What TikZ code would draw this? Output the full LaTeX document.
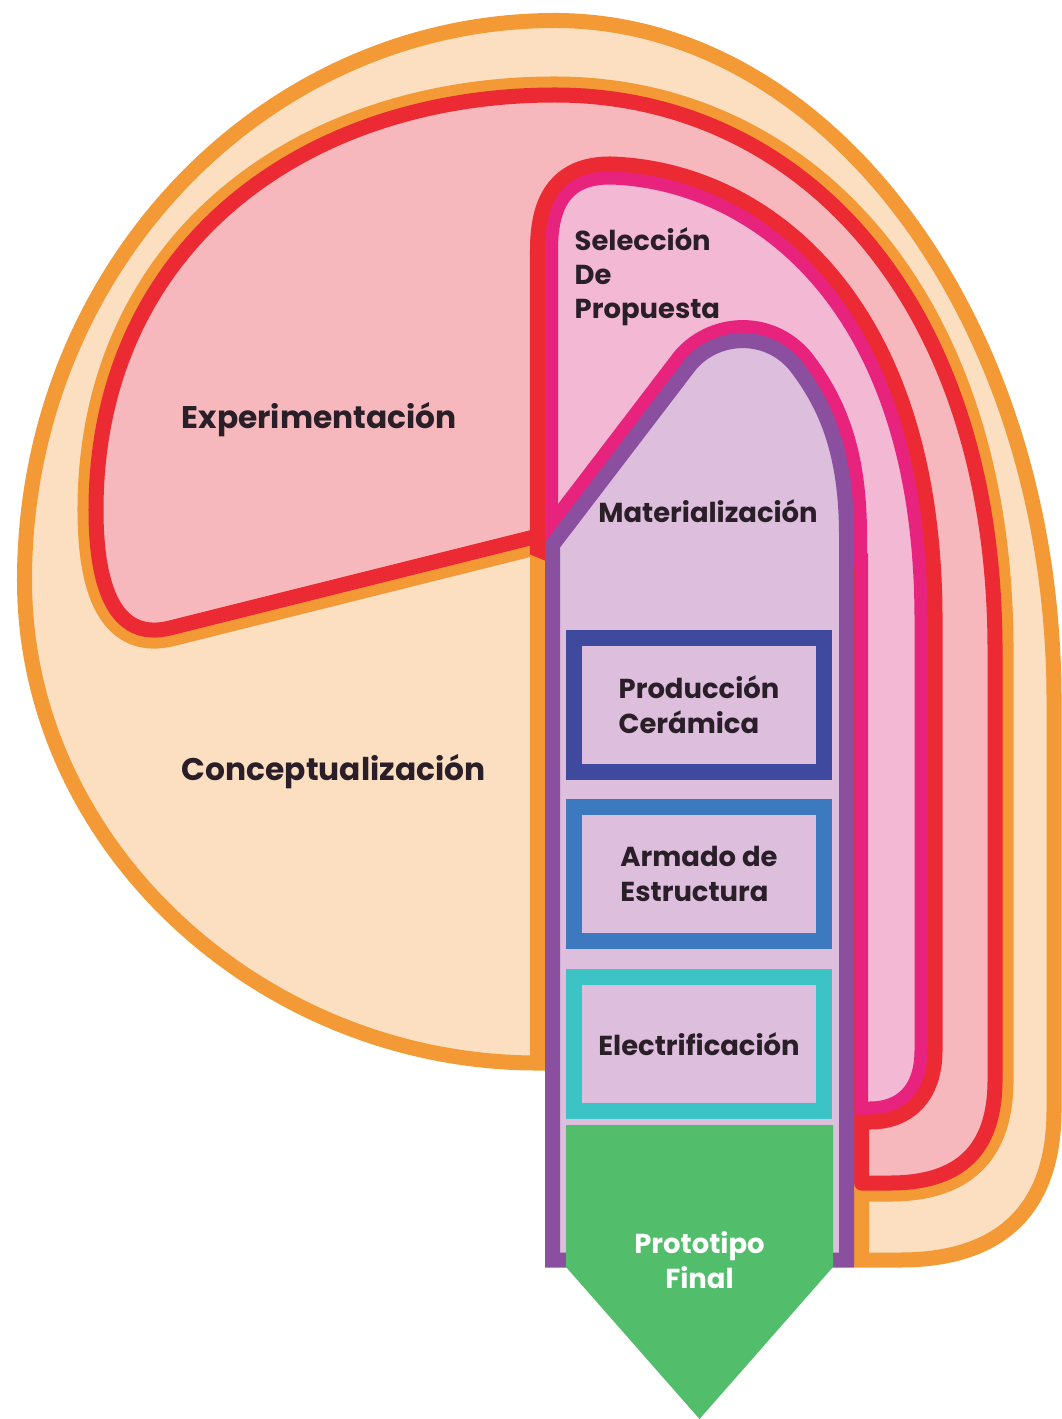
\documentclass[tikz,border=0pt]{standalone}
\usepackage{fontspec}
\setmainfont{Poppins}
\usepackage{tikz}
\usetikzlibrary{positioning}

\definecolor{peach}{HTML}{FBDFC0}
\definecolor{tangerine}{HTML}{F39A36}
\definecolor{blush}{HTML}{F6B8BC}
\definecolor{scarlet}{HTML}{EC2A34}
\definecolor{rosefill}{HTML}{F3B8D3}
\definecolor{magline}{HTML}{E8237E}
\definecolor{lilac}{HTML}{DDBEDC}
\definecolor{matpurple}{HTML}{8A4F9E}
\definecolor{navyline}{HTML}{3F4A9E}
\definecolor{skyline}{HTML}{3D79BF}
\definecolor{tealline}{HTML}{3BC3C5}
\definecolor{leaf}{HTML}{52BD6B}
\definecolor{ink}{HTML}{2A1F29}

% outlines of the two inner regions (pixel units, y down)
\newcommand{\selpath}{(551.5,540) -- (551.5,250) .. controls (551.5,200) and (570,178) .. (610,178) .. controls (750,182) and (921,300) .. (921,620) -- (921,1050) .. controls (921,1090) and (900,1108) .. (870,1108) -- (861.5,1108) -- (861.5,560) -- (600,560) -- cycle}
\newcommand{\matpath}{(552.5,1260) -- (552.5,545) -- (690,365) .. controls (715,335) and (765,330) .. (795,365) .. controls (830,410) and (847,460) .. (846.5,540) -- (846.5,1260) -- cycle}

\begin{document}
\begin{tikzpicture}[
  x=0.01cm, y=-0.01cm,
  lbl/.style={font=\fontsize{7.8}{10}\selectfont\bfseries, text=ink, inner sep=0pt, align=left},
  big/.style={lbl, font=\fontsize{8.9}{11}\selectfont\bfseries},
  stagebox/.style={draw, line width=0.16cm, fill=lilac, minimum width=2.5cm,
                   minimum height=1.34cm, lbl}
]
\useasboundingbox (0,0) rectangle (1061,1419);

% Conceptualizacion
\draw[tangerine, line width=0.15cm, fill=peach] (537.5,1063) -- (537.5,540) -- (861.5,540) -- (861.5,1260) -- (900,1260)
  .. controls (1000,1260) and (1054,1210) .. (1054,1110) -- (1054,700)
  .. controls (1054,324.7) and (830.6,20.5) .. (555,20.5)
  .. controls (262,20.5) and (24.5,271) .. (24.5,580)
  .. controls (24.5,846.8) and (262,1063) .. (537.5,1063) -- cycle;

% Experimentacion
\path[preaction={draw=tangerine, line width=0.37cm}, fill=blush, draw=scarlet, line width=0.15cm, line join=round]
  (538,536) -- (538,450) -- (861.5,450) -- (861.5,1183) -- (890,1183)
  .. controls (960,1183) and (995,1150) .. (995,1080) -- (995,650)
  .. controls (995,300) and (800,95) .. (555,95)
  .. controls (300,95) and (96,250) .. (96,510)
  .. controls (96,600) and (121.5,640) .. (170,628) -- cycle;

% Seleccion de propuesta
\path[preaction={draw=scarlet, line width=0.43cm}, fill=rosefill, draw=magline, line width=0.13cm] \selpath;

% Materializacion
\begin{scope}
  \clip \selpath;
  \draw[magline, line width=0.41cm] \matpath;
\end{scope}
\draw[matpurple, line width=0.15cm, fill=lilac] \matpath;

\node[stagebox, draw=navyline] (prod) at (699,705) {Producción\\Cerámica};
\node[stagebox, draw=skyline, below=0.19cm of prod] (arm) {Armado de\\Estructura};
\node[stagebox, draw=tealline, below=0.2cm of arm] (elec) {Electrificación};

% final prototype
\fill[leaf] (566,1125) -- (833,1125) -- (833,1267) -- (699.5,1419) -- (566,1267) -- cycle;
\node[lbl, text=white, align=center] (proto) at (699.5,1260) {Prototipo\\Final};

\node[big, anchor=base west] (expe) at (181,429) {Experimentación};
\node[big, anchor=base west] (conc) at (181,780) {Conceptualización};
\node[lbl, anchor=west, font=\fontsize{7.8}{9.7}\selectfont\bfseries] (sele) at (574,277) {Selección\\De\\Propuesta};
\node[lbl, anchor=base] (mate) at (708,522) {Materialización};
\end{tikzpicture}
\end{document}
